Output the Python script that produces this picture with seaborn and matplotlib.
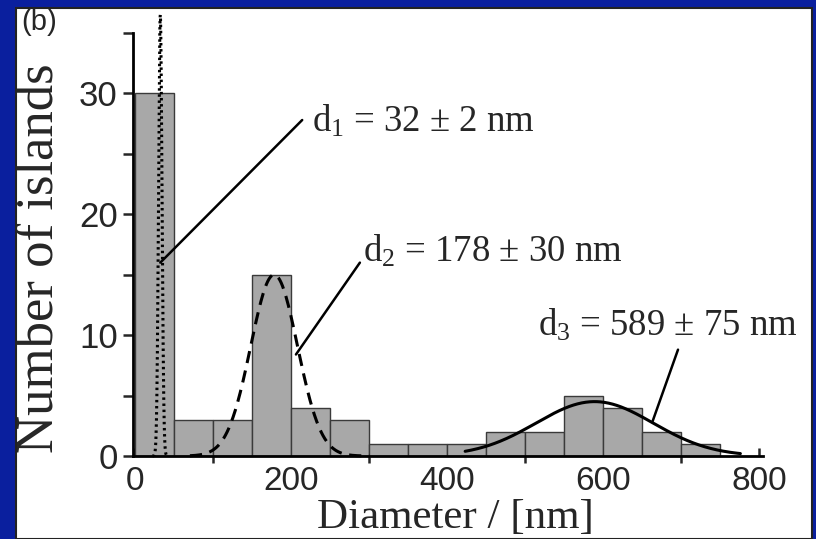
import numpy as np
import pandas as pd
import matplotlib
matplotlib.use("Agg")
import matplotlib.pyplot as plt
from matplotlib.patches import Rectangle
from matplotlib.ticker import MultipleLocator
import seaborn as sns

# ---- data ----
bin_edges = [0, 50, 100, 150, 200, 250, 300, 350, 400, 450, 500, 550, 600, 650, 700, 750]
counts = [30, 3, 3, 15, 4, 3, 1, 1, 1, 2, 2, 5, 4, 2, 1]

fit_means = [32, 178, 589]
fit_sigmas = [2.2, 30, 75]
fit_amps = [36.5, 15, 4.5]
fit_ranges = [(22, 42), (70, 300), (423, 776)]
fit_styles = [":", "--", "-"]
fit_labels = [r"d$_1$ = 32 ± 2 nm", r"d$_2$ = 178 ± 30 nm", r"d$_3$ = 589 ± 75 nm"]

# leader lines (data coords): start near curve, end near label
leader_x = [(32, 214), (206, 288), (663, 696)]
leader_y = [(16.0, 27.8), (8.4, 16.0), (2.8, 8.8)]
label_xy = [(227, 27.7), (292, 16.9), (517, 10.8)]

# ---- style ----
sns.set_style("ticks")
plt.rcParams["font.family"] = ["Liberation Sans", "DejaVu Sans"]
plt.rcParams["mathtext.fontset"] = "custom"
plt.rcParams["mathtext.rm"] = "Liberation Serif"
plt.rcParams["mathtext.it"] = "Liberation Serif:italic"

W, H = 816, 539
fig = plt.figure(figsize=(W / 100, H / 100), dpi=100)
blue = "#0A1F9E"
fig.patch.set_facecolor(blue)
fig.add_artist(Rectangle((16 / W, 0), (812 - 16) / W, (H - 8) / H,
                         transform=fig.transFigure, facecolor="white",
                         edgecolor="#222222", linewidth=1.5, zorder=0))

ax = fig.add_axes([133 / W, (H - 456) / H, 630 / W, 423 / H])
ax.set_facecolor("none")

centers = [(a + b) / 2 for a, b in zip(bin_edges[:-1], bin_edges[1:])]
df = pd.DataFrame({"diameter": centers, "count": counts})
sns.histplot(data=df, x="diameter", weights="count", bins=bin_edges, ax=ax,
             color="#a8a8a8", edgecolor="#3a3a3a", linewidth=1.0, alpha=1.0)

for m, s, a, (lo, hi), ls in zip(fit_means, fit_sigmas, fit_amps, fit_ranges, fit_styles):
    xs = np.linspace(lo, hi, 400)
    ys = a * np.exp(-0.5 * ((xs - m) / s) ** 2)
    sns.lineplot(x=xs, y=ys, ax=ax, color="black", linestyle=ls,
                 linewidth=2.2, sort=False, estimator=None)
for l in ax.lines:
    l.set_clip_on(False)
    if l.get_linestyle() == "--":
        l.set_dashes([4, 2.5])
    if l.get_linestyle() == ":":
        l.set_dashes([0.8, 1.2])

for (x0, x1), (y0, y1), (tx, ty), lab in zip(leader_x, leader_y, label_xy, fit_labels):
    ax.plot([x0, x1], [y0, y1], color="black", linewidth=1.8, clip_on=False)
    ax.text(tx, ty, lab, fontsize=26.5, family="Liberation Serif", va="center",
            ha="left", clip_on=False)

ax.set_xlim(-3, 805)
ax.set_ylim(0, 35)
ax.set_xlabel("")
ax.set_ylabel("")
ax.xaxis.set_major_locator(MultipleLocator(200))
ax.xaxis.set_minor_locator(MultipleLocator(100))
ax.yaxis.set_major_locator(MultipleLocator(10))
ax.yaxis.set_minor_locator(MultipleLocator(5))
ax.tick_params(axis="x", which="major", direction="in", length=6, width=1.8,
               labelsize=24, pad=7)
ax.tick_params(axis="x", which="minor", direction="inout", length=10, width=1.8)
ax.tick_params(axis="y", which="both", direction="out", length=7, width=1.8,
               labelsize=25, pad=4)
for sp in ["top", "right"]:
    ax.spines[sp].set_visible(False)
for sp in ["left", "bottom"]:
    ax.spines[sp].set_linewidth(2.0)
    ax.spines[sp].set_color("black")

fig.text(455 / W, 1 - 518 / H, "Diameter / [nm]", family="Liberation Serif",
         fontsize=31, ha="center", va="center")
fig.text(40 / W, 1 - 258 / H, "Number of islands", family="Liberation Serif",
         fontsize=38, ha="center", va="center", rotation=90)
fig.text(21 / W, 1 - 8 / H, "(b)", fontsize=21, ha="left", va="top")

fig.savefig("out.png", dpi=100, facecolor=fig.get_facecolor())
